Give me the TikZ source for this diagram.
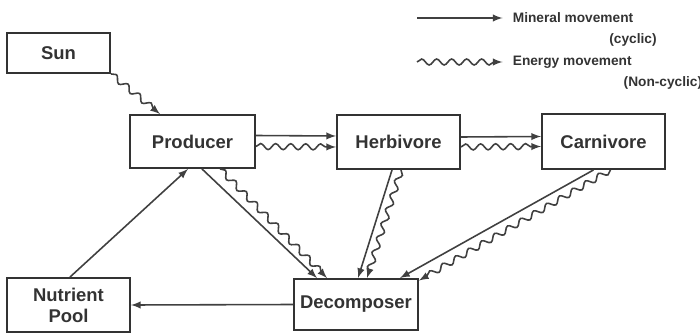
\documentclass[tikz,border=0pt]{standalone}
\usepackage{fontspec}
\setmainfont{Liberation Sans}
\usepackage{tikz}
\usetikzlibrary{arrows,decorations.pathmorphing}

\begin{document}
\begin{tikzpicture}[
  box/.style={draw=black!80, line width=1.1pt, minimum width=2.46cm, minimum height=1.06cm, inner sep=1pt, align=center, text=black!80, font=\bfseries\fontsize{10.5}{12}\selectfont},
  mineral/.style={draw=black!75, line width=0.9pt, -latex},
  energy/.style={draw=black!75, line width=0.9pt, -latex, decorate, decoration={snake, amplitude=0.06cm, segment length=0.3cm, post length=3pt}},
  legend/.style={inner sep=0pt, text=black!80, font=\bfseries\fontsize{7.8}{9}\selectfont}
]
\useasboundingbox (0cm,0cm) rectangle (14cm,-6.7cm);
\node[box, minimum width=2.06cm, minimum height=0.8cm] (sun) at (1.17cm,-1.06cm) {Sun};
\node[box, minimum width=2.5cm] (producer) at (3.85cm,-2.83cm) {Producer};
\node[box, minimum height=1.08cm] (herbivore) at (7.97cm,-2.84cm) {Herbivore};
\node[box, minimum height=1.1cm] (carnivore) at (12.07cm,-2.83cm) {Carnivore};
\node[box, minimum height=1.08cm] (pool) at (1.37cm,-6.1cm) {Nutrient\\Pool};
\node[box, minimum width=2.48cm, minimum height=1.02cm] (decomposer) at (7.12cm,-6.09cm) {Decomposer};
\coordinate (min) at (8.34cm,-0.36cm);
\coordinate (en) at (8.34cm,-1.24cm);
\node[legend, anchor=west] (mintext) at (10.25cm,-0.36cm) {Mineral movement};
\node[legend, anchor=east] (cyclic) at (13.14cm,-0.8cm) {(cyclic)};
\node[legend, anchor=west] (entext) at (10.25cm,-1.24cm) {Energy movement};
\node[legend, anchor=east] (noncyclic) at (14.05cm,-1.66cm) {(Non-cyclic)};
\draw[mineral] (min) -- ([xshift=-0.2cm]mintext.west);
\draw[energy] (en) -- ([xshift=-0.2cm]entext.west);
\draw[energy] (sun.south east) -- ([xshift=-0.65cm]producer.north);
\draw[mineral] ([yshift=0.12cm]producer.east) -- ([yshift=0.12cm]herbivore.west);
\draw[energy] ([yshift=-0.1cm]producer.east) -- ([yshift=-0.1cm]herbivore.west);
\draw[mineral] ([yshift=0.1cm]herbivore.east) -- ([yshift=0.1cm]carnivore.west);
\draw[energy] ([yshift=-0.1cm]herbivore.east) -- ([yshift=-0.1cm]carnivore.west);
\draw[mineral] ([xshift=0.19cm]producer.south) -- ([xshift=-0.78cm]decomposer.north);
\draw[energy] ([xshift=0.55cm]producer.south) -- ([xshift=-0.58cm]decomposer.north);
\draw[mineral] ([xshift=-0.13cm]herbivore.south) -- ([xshift=0.04cm]decomposer.north);
\draw[energy] ([xshift=0.05cm]herbivore.south) -- ([xshift=0.22cm]decomposer.north);
\draw[mineral] ([xshift=-0.2cm]carnivore.south) -- ([xshift=0.88cm]decomposer.north);
\draw[energy] ([xshift=0.14cm]carnivore.south) -- ([yshift=-0.05cm]decomposer.north east);
\draw[mineral] (decomposer.west) -- (pool.east);
\draw[mineral] ([xshift=0.03cm]pool.north) -- ([xshift=-0.09cm]producer.south);
\end{tikzpicture}
\end{document}
